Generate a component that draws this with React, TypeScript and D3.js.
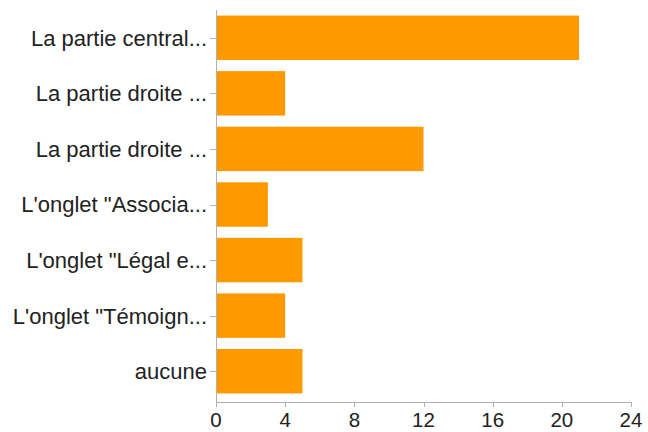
import React from "react";
import * as d3 from "d3";

const categories = [
  "La partie central...",
  "La partie droite ...",
  "La partie droite ...",
  "L'onglet \"Associa...",
  "L'onglet \"Légal e...",
  "L'onglet \"Témoign...",
  "aucune",
];
const values = [21, 4, 12, 3, 5, 4, 5];
const xTicks = [0, 4, 8, 12, 16, 20, 24];

const W = 648;
const H = 432;
const left = 216;
const right = 631;
const top = 10;
const bottom = 402;

export default function App() {
  const x = d3.scaleLinear().domain([0, 24]).range([left, right]);
  const y = d3
    .scaleBand<number>()
    .domain(d3.range(categories.length))
    .range([top, 399])
    .paddingInner(0.2)
    .paddingOuter(0.1);
  const axisColor = "#b0b0b0";
  const font = "'Liberation Sans', Arial, Helvetica, sans-serif";
  return (
    <svg
      width={W}
      height={H}
      style={{ position: "fixed", left: 0, top: 0, background: "#fff" }}
      fontFamily={font}
    >
      {values.map((v, i) => (
        <rect
          key={i}
          x={x(0)}
          y={y(i)}
          width={x(v) - x(0)}
          height={y.bandwidth()}
          fill="#ff9900"
        />
      ))}
      <line x1={left + 0.5} x2={left + 0.5} y1={top} y2={bottom + 5} stroke={axisColor} strokeWidth={1} />
      <line x1={left} x2={right + 1} y1={bottom + 0.5} y2={bottom + 0.5} stroke={axisColor} strokeWidth={1} />
      {xTicks.map((t) => (
        <g key={t}>
          <line
            x1={Math.round(x(t)) + 0.5}
            x2={Math.round(x(t)) + 0.5}
            y1={bottom}
            y2={bottom + 5}
            stroke={axisColor}
          />
          <text x={x(t)} y={427} textAnchor="middle" fontSize={20.5} fill="#222">
            {t}
          </text>
        </g>
      ))}
      {categories.map((c, i) => {
        const cy = (y(i) as number) + y.bandwidth() / 2;
        return (
          <g key={i}>
            <line x1={left - 6} x2={left} y1={Math.round(cy) + 0.5} y2={Math.round(cy) + 0.5} stroke={axisColor} />
            <text x={207} y={cy} dy="0.36em" textAnchor="end" fontSize={22} fill="#222">
              {c}
            </text>
          </g>
        );
      })}
    </svg>
  );
}
